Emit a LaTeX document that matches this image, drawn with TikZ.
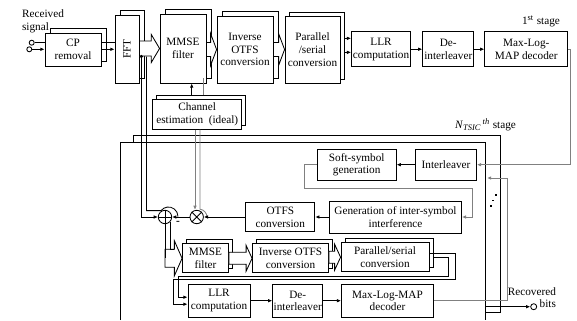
\documentclass[tikz,border=0pt]{standalone}
\usepackage{fontspec}
\setmainfont{Liberation Serif}
\usepackage{tikz}
\usetikzlibrary{arrows.meta, calc, shadows}
\tikzset{every node/.append style = {font=\fontsize{8}{9}\selectfont}}
\tikzset{blk/.style = {draw, fill=white, align=center, inner sep=0pt}}
\tikzset{stk/.style = {blk, copy shadow={shadow xshift=#1*0.25mm, shadow yshift=#1*0.25mm}}}
\tikzset{sz/.style 2 args = {minimum width=#1*0.25mm, minimum height=#2*0.25mm}}
\tikzset{sum/.style = {draw, circle, fill=white, inner sep=0pt, minimum size=13.4*0.25mm}}
\tikzset{port/.style = {draw, circle, inner sep=0pt, minimum size=5*0.25mm}}
\newcommand{\hollowarr}[5]{%
\draw[fill=white] ($(#1 |- #2.west)+(0,-#3)$) -- ($(#2.west)+(-#5,-#3)$) -- ($(#2.west)+(-#5,-#4)$) -- (#2.west) -- ($(#2.west)+(-#5,#4)$) -- ($(#2.west)+(-#5,#3)$) -- ($(#1 |- #2.west)+(0,#3)$) -- cycle;}

\begin{document}
\begin{tikzpicture}[x=0.25mm, y=-0.25mm, line width=0.6pt, >={Latex[length=3pt, width=2.6pt]}]
\useasboundingbox (0,0) rectangle (577,320);
\draw (133,142.7) -- (133,135) -- (500,135) -- (500,312) -- (485,312);
\draw (120.7,320) -- (120.7,142.7) -- (485,142.7) -- (485,320);

\node[anchor=west, align=left] (rx) at (17,21.5) {Received\\signal};
\node[port] (in1) at (31.7,42.7) {};
\node[port] (in2) at (29.3,49.3) {};
\node[stk=5, sz={56}{33}] (cp) at (73,49.5) {CP\\removal};
\node[stk=5, sz={24}{68}] (fft) at (127,49) {};
\node[rotate=90] (fftt) at (fft) {FFT};
\node[stk=5, sz={46}{69}] (mmse) at (183,48.5) {MMSE\\filter};
\node[stk=5, sz={56}{67}] (inv) at (245,49.5) {Inverse\\OTFS\\conversion};
\node[stk=4, sz={55}{67}] (par) at (312.5,49.5) {Parallel\\/serial\\conversion};
\node[blk, sz={59}{35}] (llr) at (381,49.2) {LLR\\computation};
\node[blk, sz={51}{35}] (deint) at (448.3,49.2) {De-\\interleaver};
\node[blk, sz={83}{35}] (dec) at (526.3,49.2) {Max-Log-\\MAP decoder};
\node[stk=4, sz={89}{30}] (chest) at (197.2,114.3) {Channel\\estimation\ \ (ideal)};
\node[anchor=east] (st1) at (565,21) {1\textsuperscript{st} stage};

\node[anchor=east] (stn) at (521,125) {\textit{N}\textsubscript{\textit{TSIC}}\textsuperscript{\,\textit{th}} stage};
\node[blk, sz={61}{31}] (intl) at (446,164.7) {Interleaver};
\node[blk, sz={79}{31}] (soft) at (356.7,164.7) {Soft-symbol\\generation};
\node[blk, sz={132}{32}] (gen) at (395.5,217) {Generation of inter-symbol\\interference};
\node[blk, sz={69}{29}] (otfs) at (280.3,217) {OTFS\\conversion};
\node[sum] (mult) at (196.7,217) {};
\node[sum] (adder) at (165,217) {};
\node (neg) at (178,223) {\textbf{-}};
\node[stk=4, sz={46}{29}] (mmse2) at (205.5,258.3) {MMSE\\filter};
\node[stk=4, sz={76}{29}] (inv2) at (290.5,258.3) {Inverse OTFS\\conversion};
\node[stk=4, sz={88}{29}] (par2) at (385,257.2) {Parallel/serial\\conversion};
\node[blk, sz={62}{33}] (llr2) at (219,300.7) {LLR\\computation};
\node[blk, sz={50}{33}] (deint2) at (297.7,300.7) {De-\\interleaver};
\node[blk, sz={92}{33}] (dec2) at (387.5,300.7) {Max-Log-MAP\\decoder};
\node[port, minimum size=6*0.25mm] (outc) at (533.7,306.7) {};
\node[align=right, anchor=east] (rb) at (561,297.5) {Recovered\\bits};

\draw (adder.north) -- (adder.south) (adder.west) -- (adder.east);
\draw (mult.45) -- (mult.225) (mult.135) -- (mult.-45);

\draw (in1) -- (in1 -| cp.west);
\draw[->] (in2) -- (in2 -| cp.west);
\draw (cp.east |- in1) -- (fft.west |- in1);
\draw[->] (cp.east |- in2) -- (fft.west |- in2);
\hollowarr{fft.east}{mmse}{7.5}{14}{8.3}
\hollowarr{mmse.east}{inv}{7}{16}{6}
\hollowarr{inv.east}{par}{7}{16}{6}
\foreach \d in {-11,3}
\draw[->] ($(par.east)+(4,\d)$) -- ($(llr.west)+(0,\d)$);
\draw[->] (llr) -- (deint);
\draw[->] (deint) -- (dec);
\coordinate (ce1) at ($(chest.north)+(-5.5,-4)$);
\coordinate (ce2) at ($(chest.north)+(6,-4)$);
\draw[->] (ce1) -- (ce1 |- mmse.south);
\draw[black!50] (ce2) -- ++(0,-17.3);

\coordinate (tap) at ($(fft.east)+(2,7.5)$);
\fill (tap) circle (1.7);
\draw[->] (tap) |- (adder.west);
\draw (tap) ++(5,0) |- (161,210.65) arc[start angle=218, end angle=360, radius=9.5];
\draw[->, black!50] (195,0 |- chest.south) -- (195,0 |- mult.north);
\draw[black!50] (200,0 |- chest.south) -- (200,209.2) arc[start angle=277, end angle=360, radius=7.9];

\draw[->, black!50] (dec.east) -- ++(2,0) |- (intl.east);
\draw[->] (intl) -- (soft);
\draw[->, black!50] (soft.west) -| (304,188.3) -| (472.7,200) |- (gen.east);
\draw[->] (gen) -- (otfs);
\draw[->] (otfs) -- (mult);
\draw[->] (mult) -- (adder);

\hollowarr{adder.south}{mmse2}{9}{17.5}{7.7}
\draw (adder.south) -- (adder.south |- mmse2.west);
\draw (adder.-40) |- ($(mmse2.west)+(-7.7,-9)$);
\hollowarr{mmse2.east}{inv2}{6}{13}{6}
\hollowarr{inv2.east}{par2}{6}{13}{6}
\draw[->] ($(par2.east)+(0,-4.2)$) -| (455,279.3) -| (173.3,304.2) -- ($(llr2.west)+(0,3.5)$);
\draw[->] ($(par2.east)+(4,0)$) -| (448,276.7) -| (178.3,297.2) -- ($(llr2.west)+(0,-3.5)$);
\draw[->] (llr2) -- (deint2);
\draw[->] (deint2) -- (dec2);
\coordinate (nx) at (487,178);
\draw[->, black!50] (dec2.east) -| (507,178) -- (nx);
\foreach \x/\y in {496/195, 493.3/200.5, 490.7/206}
\fill (\x-0.9,\y-0.9) rectangle ++(1.8,1.8);
\coordinate (fo) at (485,306.7);
\draw[->] (fo) -- (outc.west);
\end{tikzpicture}
\end{document}
